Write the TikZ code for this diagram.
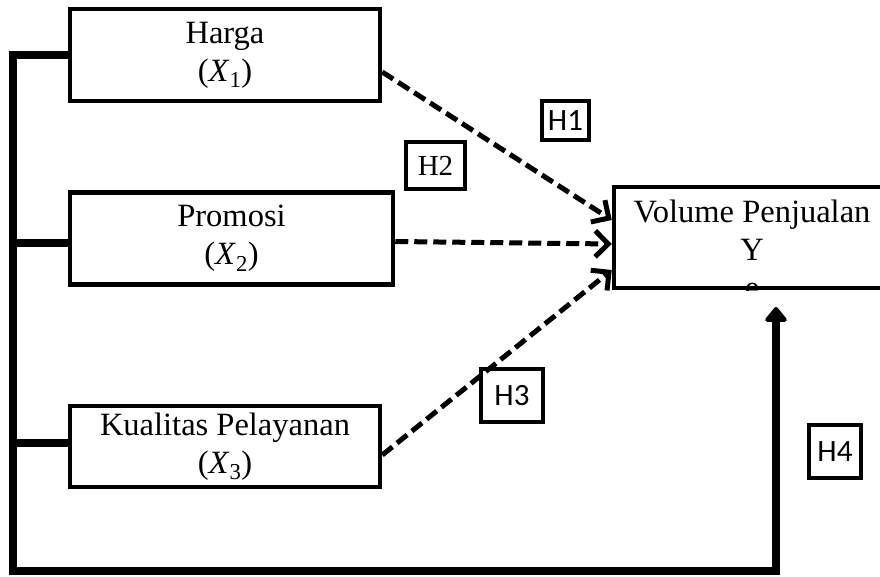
\documentclass[tikz,border=0pt]{standalone}
\usepackage{fontspec}
\setmainfont{Liberation Serif}
\newfontfamily\calibri{Carlito}
\usetikzlibrary{arrows.meta,positioning}
\newcommand{\xvar}[1]{(\textit{X}\textsubscript{#1})}

\begin{document}
\begin{tikzpicture}[x=1pt, y=1pt,
    block/.style={rectangle, draw, line width=4.5pt, align=center,
        font=\fontsize{32.5}{38}\selectfont, inner sep=0pt},
    hypo/.style={rectangle, draw, line width=4pt, inner sep=0pt,
        font=\calibri\fontsize{31}{36}\selectfont},
    line/.style={draw, line width=5pt, dash pattern=on 13pt off 6pt,
        -{Straight Barb[length=13pt, width=26pt]}},
    bus/.style={draw, line width=8pt}
    ]
    \useasboundingbox (0,0) rectangle (880,576);
    \clip (0,0) rectangle (880,576);

    % Nodes
    \node [block, minimum width=310pt, minimum height=92pt] (harga) at (225,521) {Harga\\\xvar{1}};
    \node [block, minimum width=323pt, minimum height=92pt, below=87pt of harga.south west, anchor=north west] (promosi) {Promosi\\\xvar{2}};
    \node [block, minimum width=310pt, minimum height=81pt, below=117pt of promosi.south west, anchor=north west] (kualitas) {Kualitas Pelayanan\\\xvar{3}};
    \node [block, minimum width=276pt, minimum height=101pt, text depth=14pt] (volume) at (752,338.5) {Volume Penjualan\\Y};
    \begin{scope}
        \clip (volume.south west) rectangle (volume.north east);
        \node [font=\fontsize{32.5}{38}\selectfont, anchor=north, inner sep=0pt] (ecut) at (752,293) {e};
    \end{scope}
    \coordinate (bustop) at (13,521);
    \coordinate (busbot) at (13,5);
    \coordinate (h4tip) at (776,269);

    % Paths
    \draw[line] ([yshift=-17pt]harga.east) -- ([yshift=17.5pt]volume.west);
    \draw[line] ([yshift=-3pt]promosi.east) -- ([yshift=-6.5pt]volume.west);
    \draw[line] ([yshift=-8.5pt]kualitas.east) -- ([yshift=-32.5pt]volume.west);
    \draw[bus, -{Triangle[length=16pt, width=25pt, round]}] (harga.west) -- (bustop) -- (busbot) -| (h4tip);
    \draw[bus] ([yshift=-5pt]promosi.west) -- ([yshift=-5pt]promosi.west -| bustop);
    \draw[bus] ([yshift=3.5pt]kualitas.west) -- ([yshift=3.5pt]kualitas.west -| bustop);

    % Annotations
    \node [hypo, minimum width=47pt, minimum height=39pt] (h1) at (565.5,455.5) {H1};
    \node [hypo, minimum width=59pt, minimum height=47pt, font=\fontsize{29}{34}\selectfont] (h2) at (435.5,410.5) {H2};
    \node [hypo, minimum width=62pt, minimum height=53pt] (h3) at (512,180.5) {H3};
    \node [hypo, minimum width=52pt, minimum height=53pt] (h4) at (835,124.5) {H4};
\end{tikzpicture}
\end{document}
